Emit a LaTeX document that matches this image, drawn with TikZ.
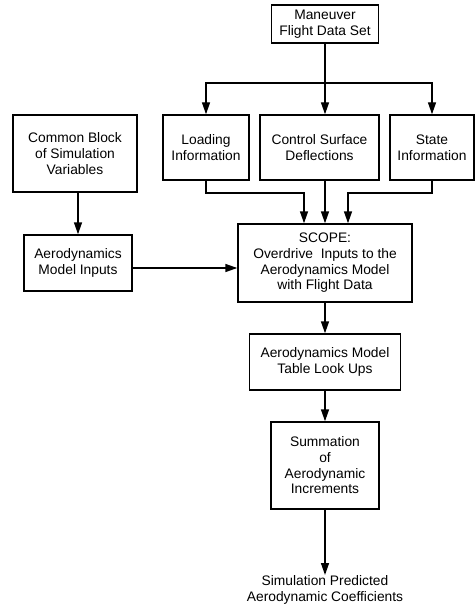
\documentclass[tikz,border=0pt]{standalone}
\usepackage{fontspec}
\setmainfont{Liberation Sans}
\usetikzlibrary{arrows.meta}

\begin{document}
\begin{tikzpicture}[x=1pt,y=-1pt,line width=1.4pt,font=\fontsize{13.8}{15.7}\selectfont,arrow/.style={-{Triangle[length=12pt,width=8pt]}},blk/.style={draw,align=center,inner sep=2pt}]
\useasboundingbox (0,0) rectangle (475,607);
\node[blk,minimum width=107pt,minimum height=38pt] (man) at (325,24) {Maneuver\\Flight Data Set};
\node[blk,minimum width=86pt,minimum height=65pt] (load) at (206,147.5) {Loading\\Information};
\node[blk,minimum width=119pt,minimum height=65pt] (ctrl) at (319.5,147.5) {Control Surface\\Deflections};
\node[blk,minimum width=84pt,minimum height=65pt] (state) at (432,147.5) {State\\Information};
\node[blk,minimum width=124pt,minimum height=77pt] (common) at (75,153.5) {Common Block\\of Simulation\\Variables};
\node[blk,minimum width=108pt,minimum height=56pt] (inputs) at (78,263) {Aerodynamics\\Model Inputs};
\node[blk,minimum width=174pt,minimum height=78pt] (scope) at (325,263) {SCOPE:\\Overdrive\ \ Inputs to the\\Aerodynamics Model\\with Flight Data};
\node[blk,minimum width=151pt,minimum height=56pt] (table) at (325,362) {Aerodynamics Model\\Table Look Ups};
\node[blk,minimum width=108pt,minimum height=87pt] (summ) at (325,465.5) {Summation\\of\\Aerodynamic\\Increments};
\node[align=center,anchor=north,inner sep=0pt] (out) at (325,575) {Simulation Predicted\\Aerodynamic Coefficients};
\coordinate (split) at (325,83);
\coordinate (jload) at (304,193);
\coordinate (jstate) at (348,193);
\draw (man.south) -- (split);
\draw[arrow] (split) -| (load.north);
\draw[arrow] (split) -| (state.north);
\draw[arrow] (split) -- (split |- ctrl.north);
\draw[arrow] (load.south) |- (jload) -- (jload |- scope.north);
\draw[arrow] (split |- ctrl.south) -- (scope.north);
\draw[arrow] (state.south) |- (jstate) -- (jstate |- scope.north);
\draw[arrow] (common.south -| inputs.north) -- (inputs.north);
\draw[arrow] ([yshift=-5pt]inputs.east) -- ([yshift=-5pt]inputs.east -| scope.west);
\draw[arrow] (scope.south) -- (table.north);
\draw[arrow] (table.south) -- (summ.north);
\draw[arrow] (summ.south) -- (out.north);
\end{tikzpicture}
\end{document}
